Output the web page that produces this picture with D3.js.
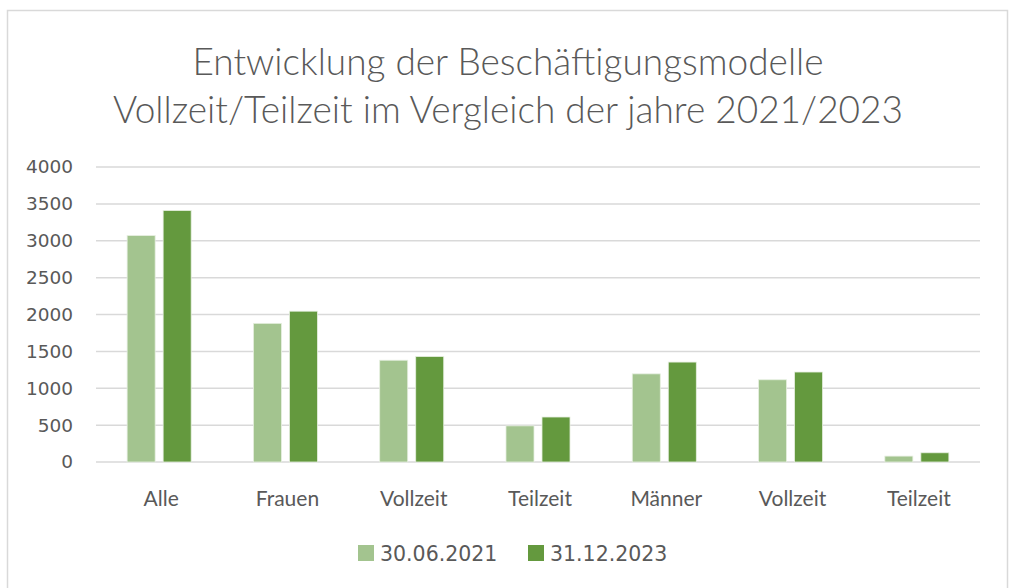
<!DOCTYPE html>
<html lang="de">
<head>
    <meta charset="UTF-8">
    <title>Entwicklung der Beschäftigungsmodelle</title>
    <script src="https://cdn.jsdelivr.net/npm/d3@7"></script>
    <style>
        body{ margin:0; background:#fff; }
        svg{ display:block; }
        text{ fill:#595959; }
    </style>
</head>
<body>
<script>
    // data
    const categories = ["Alle","Frauen","Vollzeit","Teilzeit","Männer","Vollzeit","Teilzeit"];
    const seriesNames = ["30.06.2021","31.12.2023"];
    const values2021 = [3070,1880,1380,490,1195,1115,80];
    const values2023 = [3410,2045,1430,610,1355,1220,125];
    const seriesColors = ["#a3c48f","#64993e"];
    const yTicks = [0,500,1000,1500,2000,2500,3000,3500,4000];
    const titleLines = ["Entwicklung der Beschäftigungsmodelle","Vollzeit/Teilzeit im Vergleich der jahre 2021/2023"];

    const width=1012, height=588;
    const margins={ top:167, bottom:126, left:96, right:32 };

    const svg=d3.select("body").append("svg")
        .attr("width",width).attr("height",height);

    // chart frame
    svg.append("rect")
        .attr("x",7.5).attr("y",10.5)
        .attr("width",1000).attr("height",600)
        .attr("fill","#fff").attr("stroke","#d9d9d9").attr("stroke-width",1.5);

    //title
    svg.append("text")
        .attr("text-anchor","middle")
        .style("font-family","Lato")
        .style("font-weight",300)
        .style("font-size","37px")
        .selectAll("tspan")
        .data(titleLines)
        .join("tspan")
        .attr("x",width/2+2)
        .attr("y",(d,i)=>75+i*48)
        .text(d=>d);

    const idx=categories.map((c,i)=>i);
    const x0=d3.scaleBand()
        .domain(idx)
        .range([margins.left,width-margins.right])
        .paddingInner(0.493).paddingOuter(0.2465);
    const x1=d3.scaleBand()
        .domain([0,1])
        .range([0,x0.bandwidth()])
        .paddingInner(0.222);
    const y=d3.scaleLinear()
        .domain([0,4000])
        .range([height-margins.bottom,margins.top]);

    // gridlines
    svg.append("g")
        .selectAll("line")
        .data(yTicks)
        .join("line")
        .attr("x1",margins.left).attr("x2",width-margins.right)
        .attr("y1",d=>y(d)).attr("y2",d=>y(d))
        .attr("stroke","#d9d9d9").attr("stroke-width",1.5);

    // y axis labels
    const yAxis=d3.axisLeft(y).tickValues(yTicks).tickFormat(d3.format("d")).tickSize(0).tickPadding(23);
    svg.append("g")
        .attr("transform",`translate(${margins.left},0)`)
        .call(yAxis)
        .call(g=>g.select(".domain").remove())
        .call(g=>g.selectAll("text")
            .attr("fill","#595959")
            .style("font-family","DejaVu Sans")
            .style("font-size","18.5px"));

    // bars
    const rows=idx.map(i=>[values2021[i],values2023[i]]);
    svg.append("g")
        .selectAll("g")
        .data(rows)
        .join("g")
        .attr("transform",(d,i)=>`translate(${x0(i)},0)`)
        .selectAll("rect")
        .data(d=>d)
        .join("rect")
        .attr("x",(d,j)=>x1(j))
        .attr("width",x1.bandwidth())
        .attr("y",d=>y(d))
        .attr("height",d=>y(0)-y(d))
        .attr("fill",(d,j)=>seriesColors[j])
        .attr("stroke","#e6efe0").attr("stroke-width",0.8);

    // x axis labels
    svg.append("g")
        .selectAll("text")
        .data(categories)
        .join("text")
        .attr("x",(d,i)=>x0(i)+x0.bandwidth()/2+2)
        .attr("y",height-margins.bottom+44)
        .attr("text-anchor","middle")
        .style("font-family","Lato")
        .style("font-size","21px")
        .text(d=>d);

    //legend
    const legendX=[358,528];
    const legend=svg.append("g")
        .selectAll("g")
        .data(seriesNames)
        .join("g")
        .attr("transform",(d,i)=>`translate(${legendX[i]},545)`);
    legend.append("rect")
        .attr("width",16).attr("height",16)
        .attr("fill",(d,i)=>seriesColors[i]);
    legend.append("text")
        .attr("x",22).attr("y",15.5)
        .style("font-family","DejaVu Sans")
        .style("font-size","20.5px")
        .text(d=>d);
</script>
</body>
</html>
